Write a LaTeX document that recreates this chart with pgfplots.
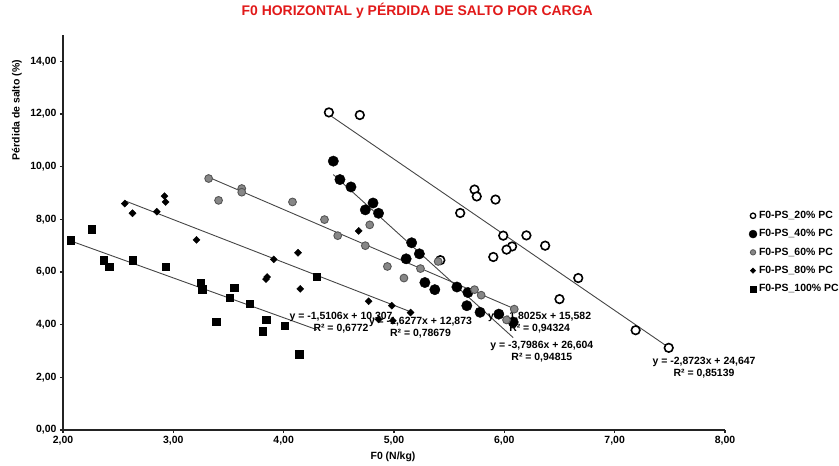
\documentclass[border=0pt]{standalone}
\usepackage{fontspec}
\setmainfont{Liberation Sans}
\usepackage{pgfplots}
\pgfplotsset{compat=1.18}
\definecolor{titlered}{RGB}{225,25,25}
\definecolor{midgray}{RGB}{135,135,135}
\definecolor{edgegray}{RGB}{85,85,85}
\definecolor{trend}{RGB}{70,70,70}
\definecolor{axisc}{RGB}{35,35,35}
\newcommand{\lbl}{\bfseries\fontsize{10.5}{12}\selectfont}

\begin{document}
\begin{tikzpicture}
\useasboundingbox (-63bp,-36bp) rectangle (776bp,430bp);
\begin{axis}[
  at={(0,0)}, anchor=south west,
  scale only axis, width=662bp, height=395bp,
  xmin=2, xmax=8, ymin=0, ymax=15,
  axis x line*=bottom, axis y line*=left,
  axis line style={line width=1.8bp, color=axisc},
  xtick={2,3,...,8}, ytick={0,2,...,14},
  tick align=outside, major tick length=3bp,
  tick style={line width=1.2bp, color=axisc},
  /pgf/number format/fixed, /pgf/number format/fixed zerofill,
  /pgf/number format/precision=2, /pgf/number format/use comma,
  /pgf/number format/assume math mode=true,
  ticklabel style={font=\lbl},
  title={F0 HORIZONTAL y PÉRDIDA DE SALTO POR CARGA},
  title style={font=\bfseries\fontsize{14}{16}\selectfont, color=titlered, at={(rel axis cs:0.535,1.0456)}, anchor=center},
  xlabel={F0 (N/kg)},
  xlabel style={font=\lbl, at={(rel axis cs:0.4985,-0.068)}, anchor=center},
  ylabel={Pérdida de salto (\%)},
  ylabel style={font=\lbl, at={(rel axis cs:-0.0695,0.81)}, anchor=center},
  legend style={at={(rel axis cs:1.036,0.559)}, anchor=north west, draw=none, fill=none,
    font=\lbl, row sep=5.5bp, inner sep=0pt},
  legend cell align=left,
  legend image code/.code={\draw[#1] plot coordinates {(0bp,0bp)};},
  clip=false,
]
% legend images
\addlegendimage{only marks, mark=*, mark size=2.7bp, mark options={fill=white, draw=black, line width=1.3bp}}
\addlegendentry{F0-PS\_20\% PC}
\addlegendimage{only marks, mark=*, mark size=4bp, mark options={fill=black, draw=black}}
\addlegendentry{F0-PS\_40\% PC}
\addlegendimage{only marks, mark=*, mark size=2.7bp, mark options={fill=midgray, draw=edgegray, line width=0.8bp}}
\addlegendentry{F0-PS\_60\% PC}
\addlegendimage{only marks, mark=square*, mark size=1.9bp, mark options={fill=black, draw=black, rotate=45}}
\addlegendentry{F0-PS\_80\% PC}
\addlegendimage{only marks, mark=square*, mark size=3.2bp, mark options={fill=black, draw=black}}
\addlegendentry{F0-PS\_100\% PC}

% trend lines
\addplot[trend, line width=0.9bp, forget plot] coordinates {(4.41,11.980) (7.49,3.134)};
\addplot[trend, line width=0.9bp, forget plot] coordinates {(4.45,9.700) (6.08,3.509)};
\addplot[trend, line width=0.9bp, forget plot] coordinates {(3.32,9.598) (6.09,4.605)};
\addplot[trend, line width=0.9bp, forget plot] coordinates {(2.56,8.706) (5.15,4.490)};
\addplot[trend, line width=0.9bp, forget plot] coordinates {(2.07,7.180) (4.30,3.811)};

% trend labels
\node[font=\lbl, align=center, inner sep=0pt] at (axis cs:7.81,2.38) {y = -2,8723x + 24,647\\R² = 0,85139};
\node[font=\lbl, align=center, inner sep=0pt] at (axis cs:6.34,2.97) {y = -3,7986x + 26,604\\R² = 0,94815};
\node[font=\lbl, align=center, inner sep=0pt] at (axis cs:6.32,4.08) {y = -1,8025x + 15,582\\R² = 0,94324};
\node[font=\lbl, align=center, inner sep=0pt] at (axis cs:5.24,3.90) {y = -1,6277x + 12,873\\R² = 0,78679};
\node[font=\lbl, align=center, inner sep=0pt] at (axis cs:4.52,4.08) {y = -1,5106x + 10,307\\R² = 0,6772};

% 20% PC
\addplot[only marks, forget plot, mark=*, mark size=4.3bp, mark options={fill=white, draw=black, line width=1.6bp}] coordinates {
(4.41,12.06) (4.69,11.96) (5.73,9.13) (5.75,8.87) (5.92,8.75) (5.60,8.24)
(5.99,7.38) (6.20,7.39) (6.37,7.00) (6.07,6.97) (6.02,6.85) (5.90,6.57)
(6.67,5.77) (6.50,4.97) (7.19,3.79) (7.49,3.12) (5.42,6.45)};
% 40% PC
\addplot[only marks, forget plot, mark=*, mark size=5.2bp, mark options={fill=black, draw=black}] coordinates {
(4.45,10.21) (4.51,9.51) (4.61,9.23) (4.81,8.62) (4.74,8.36) (4.86,8.23)
(5.16,7.11) (5.23,6.69) (5.11,6.50) (5.28,5.60) (5.37,5.33) (5.57,5.43)
(5.67,5.22) (5.66,4.72) (5.78,4.47) (5.95,4.40) (6.08,4.10)};
% 60% PC
\addplot[only marks, forget plot, mark=*, mark size=3.9bp, mark options={fill=midgray, draw=edgegray, line width=0.9bp}] coordinates {
(3.32,9.55) (3.41,8.72) (3.62,9.17) (3.62,9.03) (4.08,8.66) (4.37,7.99)
(4.49,7.38) (4.78,7.79) (4.74,7.00) (4.94,6.21) (5.09,5.77) (5.24,6.13)
(5.40,6.40) (5.73,5.33) (5.79,5.12) (6.09,4.59) (6.02,4.18)};
% 80% PC
\addplot[only marks, forget plot, mark=square*, mark size=2.5bp, mark options={fill=black, draw=black, rotate=45}] coordinates {
(2.56,8.60) (2.63,8.23) (2.85,8.29) (2.92,8.88) (2.93,8.66) (3.21,7.22)
(3.91,6.48) (4.13,6.73) (3.85,5.81) (3.84,5.73) (4.15,5.36) (4.68,7.56)
(4.77,4.89) (4.98,4.72) (5.15,4.46) (4.86,4.20) (4.99,4.15)};
% 100% PC
\addplot[only marks, forget plot, mark=square*, mark size=3.7bp, mark options={fill=black, draw=black}] coordinates {
(2.07,7.20) (2.26,7.63) (2.37,6.45) (2.42,6.21) (2.63,6.45) (2.93,6.19)
(3.25,5.60) (3.26,5.35) (3.55,5.41) (3.51,5.03) (3.69,4.79) (4.30,5.82)
(3.39,4.12) (3.84,4.18) (3.81,3.75) (4.01,3.96) (4.14,2.88)};
\end{axis}
\end{tikzpicture}
\end{document}
